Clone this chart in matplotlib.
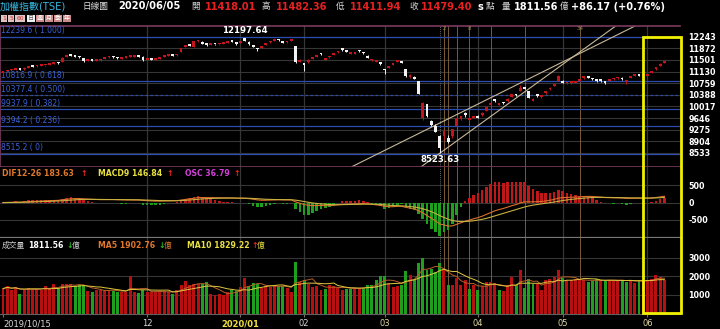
import numpy as np
import pandas as pd
import matplotlib
matplotlib.use('Agg')
import matplotlib.pyplot as plt
from matplotlib.patches import Rectangle

plt.rcParams['font.family'] = ['DejaVu Sans', 'Noto Sans CJK TC']
plt.rcParams['axes.unicode_minus'] = False

# daily TAIEX bars, 2019/10/15 .. 2020/06/05
opens = [11100, 11135, 11165, 11190, 11200, 11200, 11260, 11300, 11295, 11320,
         11330, 11345, 11370, 11420, 11447, 11590, 11650, 11640, 11620, 11560,
         11480, 11510, 11470, 11485, 11530, 11580, 11600, 11580, 11545, 11560,
         11590, 11610, 11635, 11606, 11495, 11525, 11510, 11540, 11600, 11640,
         11665, 11650, 11766, 11930, 11960, 11925, 12090, 12080, 12010, 11985,
         12015, 11995, 12015, 12040, 12100, 12060, 12050, 12190, 12080, 11980,
         11850, 11880, 11985, 12060, 12110, 12160, 12100, 12060, 12100, 11946,
         11430, 11380, 11420, 11540, 11610, 11700, 11500, 11580, 11670, 11740,
         11825, 11790, 11690, 11690, 11800, 11740, 11640, 11490, 11440, 11420,
         11180, 11250, 11350, 11440, 11470, 11202, 10960, 10960, 10830, 9661,
         10086, 9560, 9380, 9076, 9076, 9023, 9076, 9400, 9630, 9800,
         9600, 9660, 9700, 9740, 9880, 10060, 10230, 10080, 10150, 10190,
         10330, 10410, 10520, 10600, 10500, 10200, 10365, 10320, 10440, 10560,
         10680, 10830, 10830, 10750, 10760, 10780, 10830, 10920, 10970, 10920,
         10870, 10850, 10790, 10830, 10880, 10910, 10930, 10810, 10940, 11000,
         11040, 10990, 11000, 11090, 11200, 11320, 11418.01]
highs = [11140, 11175, 11200, 11225, 11215, 11265, 11300, 11310, 11330, 11345,
         11355, 11375, 11405, 11430, 11590, 11650, 11665, 11655, 11630, 11570,
         11515, 11520, 11495, 11530, 11585, 11640, 11615, 11590, 11565, 11595,
         11620, 11640, 11645, 11615, 11520, 11535, 11545, 11595, 11650, 11675,
         11675, 11695, 11885, 11965, 11980, 12115, 12125, 12090, 12020, 12015,
         12025, 12020, 12045, 12095, 12110, 12070, 12110, 12197.64, 12090, 11990,
         11880, 11935, 12040, 12115, 12179, 12170, 12110, 12115, 12140, 11950,
         11530, 11400, 11520, 11590, 11670, 11710, 11560, 11640, 11720, 11800,
         11840, 11800, 11725, 11730, 11810, 11750, 11650, 11535, 11480, 11430,
         11200, 11320, 11400, 11500, 11480, 11210, 11040, 10990, 10840, 10150,
         10100, 9600, 9450, 9120, 9260, 9100, 9300, 9660, 9720, 9830,
         9680, 9720, 9730, 9830, 10010, 10140, 10240, 10130, 10170, 10280,
         10420, 10420, 10700, 10640, 10510, 10290, 10380, 10370, 10520, 10630,
         10740, 11010, 10850, 10800, 10800, 10820, 10900, 10980, 10990, 10940,
         10890, 10870, 10810, 10900, 10920, 10950, 10950, 10840, 11000, 11060,
         11060, 11030, 11060, 11160, 11290, 11400, 11482.36]
lows = [11090, 11125, 11150, 11180, 11170, 11195, 11250, 11280, 11285, 11310,
        11320, 11340, 11360, 11380, 11440, 11580, 11620, 11600, 11570, 11440,
        11465, 11470, 11460, 11475, 11520, 11570, 11575, 11540, 11535, 11550,
        11580, 11600, 11595, 11480, 11485, 11500, 11500, 11530, 11590, 11630,
        11625, 11640, 11760, 11920, 11940, 11920, 12080, 11995, 11960, 11975,
        11990, 11985, 12005, 12030, 12060, 11985, 12040, 12100, 11980, 11900,
        11790, 11870, 11975, 12050, 12100, 12110, 12040, 12050, 12090, 11400,
        11420, 11150, 11410, 11530, 11600, 11660, 11490, 11570, 11660, 11730,
        11800, 11740, 11680, 11680, 11760, 11700, 11560, 11480, 11430, 11350,
        11050, 11240, 11340, 11430, 11400, 10960, 10920, 10880, 10400, 9600,
        9690, 9400, 9200, 8523.63, 8950, 8850, 9000, 9380, 9600, 9690,
        9580, 9640, 9640, 9720, 9860, 10040, 10160, 10060, 10100, 10170,
        10310, 10350, 10500, 10560, 10280, 10180, 10330, 10300, 10420, 10540,
        10660, 10820, 10760, 10730, 10740, 10760, 10820, 10900, 10920, 10870,
        10810, 10810, 10740, 10820, 10870, 10900, 10870, 10740, 10930, 10990,
        10980, 10980, 10990, 11080, 11190, 11310, 11411.94]
closes = [11128, 11160, 11190, 11210, 11180, 11255, 11290, 11290, 11320, 11330,
          11340, 11360, 11395, 11390, 11574, 11630, 11630, 11610, 11585, 11460,
          11500, 11480, 11480, 11520, 11575, 11625, 11585, 11553, 11553, 11585,
          11606, 11627, 11606, 11490, 11510, 11510, 11530, 11585, 11638, 11660,
          11638, 11680, 11872, 11946, 11957, 12105, 12106, 12010, 11978, 12000,
          12000, 12010, 12031, 12085, 12070, 11997, 12100, 12110, 11999, 11914,
          11840, 11925, 12031, 12106, 12138, 12127, 12053, 12106, 12127, 11421,
          11495, 11354, 11500, 11574, 11659, 11680, 11540, 11627, 11712, 11787,
          11818, 11755, 11712, 11712, 11776, 11712, 11574, 11521, 11468, 11362,
          11170, 11308, 11393, 11489, 11415, 10977, 11003, 10893, 10422, 10128,
          9717, 9439, 9218, 8681, 9234, 8890, 9285, 9644, 9698, 9736,
          9629, 9708, 9663, 9818, 9996, 10118, 10190, 10118, 10118, 10267,
          10405, 10373, 10617, 10585, 10299, 10245, 10352, 10352, 10511, 10617,
          10724, 10992, 10777, 10777, 10777, 10800, 10883, 10968, 10936, 10883,
          10830, 10830, 10777, 10883, 10905, 10936, 10883, 10830, 10990, 11043,
          10990, 11010, 11043, 11149, 11277, 11383, 11479.40]
volumes = [1344, 1469, 1290, 1434, 1075, 1290, 1398, 1344, 1344, 1254,
           1469, 1344, 1577, 1344, 1613, 1577, 1613, 1469, 1523, 1523,
           1219, 1165, 1290, 1290, 1201, 1290, 1219, 1165, 1165, 1165,
           2025, 1165, 1111, 1290, 1165, 1165, 1165, 1165, 1201, 1165,
           1075, 1290, 1523, 1756, 1523, 1613, 1577, 1577, 1702, 1075,
           986, 1075, 986, 1165, 1254, 1219, 1434, 1935, 1469, 1649,
           1577, 1398, 1469, 1434, 1523, 1469, 1469, 1398, 1165, 2778,
           1702, 1828, 1613, 1434, 1469, 1290, 1344, 1523, 1469, 1398,
           1254, 1344, 1344, 1398, 1357, 1357, 1536, 1536, 1804, 2018,
           2018, 1625, 1447, 1482, 1536, 2304, 2072, 1804, 2697, 3018,
           2340, 2375, 2250, 2697, 2340, 1536, 1536, 1893, 1536, 1804,
           1304, 1536, 1268, 1482, 1715, 1715, 1625, 1268, 1214, 1536,
           1982, 1536, 2340, 1357, 1840, 1590, 1590, 1268, 1804, 1840,
           1982, 2340, 1893, 1804, 1804, 1840, 1804, 1804, 1715, 1768,
           1840, 1768, 1804, 1804, 1768, 1804, 1804, 1700, 1804, 1625,
           1804, 1804, 1804, 1840, 2080, 1982, 1811.56]

month_ticks = [0, 34, 56, 71, 90, 112, 132, 152]
month_labels = ['2019/10/15', '12', '2020/01', '02', '03', '04', '05', '06']
price_ticks = [8533, 8904, 9275, 9646, 10017, 10388, 10759, 11130, 11501, 11872, 12243]
fib_levels = [12239.6, 10816.9, 10377.4, 9937.9, 9394.2, 8515.2]
fib_ratios = ['1.000', '0.618', '0.500', '0.382', '0.236', '0']
fib_base_bar = 103
fib_days = [1, 2, 3, 5, 8, 13, 21, 34]
trend_a = [(101, 9354), (134.5, 11605)]
trend_b = [(103, 8523.63), (134.5, 11605)]

BG = 'black'
RED = '#c4141c'
GREEN = '#1ea01e'
GRID = '#363636'
FIB_BLUE = '#2c4cb0'
TAN = '#8a6a44'

W, H = 720, 329
fig = plt.figure(figsize=(W / 100, H / 100), dpi=100, facecolor=BG)


def box(top, bottom, left=0, right=680):
    return [left / W, 1 - bottom / H, (right - left) / W, (bottom - top) / H]


ax = fig.add_axes(box(26, 166.7))
ax_m = fig.add_axes(box(166.7, 237.7), sharex=ax)
ax_v = fig.add_axes(box(237.7, 313.5), sharex=ax)

x = np.arange(len(closes))
o = np.array(opens)
c = np.array(closes)
vol = np.array(volumes)
up = c >= o

for a in (ax, ax_m, ax_v):
    a.set_facecolor(BG)
    for s in a.spines.values():
        s.set_visible(False)
    a.tick_params(left=False, right=False, labelleft=False, bottom=False, labelbottom=False)
    for m in month_ticks[1:]:
        a.axvline(m, color=GRID, lw=0.9, zorder=0)
    for d in fib_days:
        if d == 1:
            a.axvline(fib_base_bar, color='#8a8a8a', lw=0.6, ls=(0, (1, 1.5)), zorder=1)
        else:
            a.axvline(fib_base_bar + d - 1, color=TAN, lw=0.6, zorder=1)

ax.set_xlim(-0.708, 159.67)

# main price panel
ax.set_ylim(8096, 12584)
for t in price_ticks:
    ax.axhline(t, color=GRID, lw=0.8, zorder=0)
for lv, r in zip(fib_levels, fib_ratios):
    ax.axhline(lv, color=FIB_BLUE, lw=0.9, ls=(0, (2, 2)) if r == '0.500' else '-', zorder=1)
    ax.annotate(f'{lv:.1f} ( {r})', (0.002, lv), xycoords=('axes fraction', 'data'),
                xytext=(0, 1), textcoords='offset points', va='bottom', ha='left',
                fontsize=5.5, color='#3a62d8', family=['Liberation Sans Narrow', 'DejaVu Sans'])
ax.axline(trend_a[0], trend_a[1], color='#c8b898', lw=0.8, zorder=2)
ax.axline(trend_b[0], trend_b[1], color='#c8b898', lw=0.8, zorder=2)

ccol = np.where(up, RED, '#f2f2f2')
ax.vlines(x, lows, highs, colors=ccol, lw=0.7, zorder=3)
# bodies drawn at least ~2 px tall, as the terminal does
ax.bar(x, np.maximum(np.abs(c - o), 55), bottom=np.minimum(o, c), width=0.66,
       color=ccol, linewidth=0, zorder=4)

hi = int(np.argmax(highs))
lo = int(np.argmin(lows))
ax.annotate(f'{highs[hi]:.2f}', (hi, highs[hi]), xytext=(0, 2.5), textcoords='offset points',
            ha='center', va='bottom', color='white', fontsize=6.2, fontweight='bold', zorder=6)
ax.annotate(f'{lows[lo]:.2f}', (lo, lows[lo]), xytext=(0, -1), textcoords='offset points',
            ha='center', va='top', color='white', fontsize=6.2, fontweight='bold', zorder=6)

for d in (2, 8, 34):
    ax.text(fib_base_bar + d - 1, 12490, str(d), ha='center', va='center',
            fontsize=4, color='#a08058')

ax.yaxis.tick_right()
ax.set_yticks(price_ticks)
ax.tick_params(axis='y', right=False, labelright=True, pad=2.5,
               labelsize=5.8, labelcolor='white')
for lab in ax.get_yticklabels():
    lab.set_fontweight('bold')
for s in ('top', 'left', 'bottom'):
    ax.spines[s].set_visible(True)
    ax.spines[s].set_color('#7a3a5e')
    ax.spines[s].set_linewidth(1.2)

# MACD panel; the histogram has its own, larger scale
cs = pd.Series(c)
dif = cs.ewm(span=12, adjust=False).mean() - cs.ewm(span=26, adjust=False).mean()
sig = dif.ewm(span=9, adjust=False).mean()
osc = dif - sig
ax_m.set_ylim(-1029, 1050)
for t in (-500, 0, 500):
    ax_m.axhline(t, color=GRID, lw=0.8, zorder=0)
ax_h = ax_m.twinx()
ax_h.set_ylim(-1029 / 4, 1050 / 4)
ax_h.axis('off')
ax_h.bar(x, osc, width=0.6, color=np.where(osc >= 0, '#c01818', GREEN), linewidth=0, zorder=2)
ax_h.plot(x, dif, color='#d8702c', lw=0.8, zorder=3, transform=ax_m.transData)
ax_h.plot(x, sig, color='#c8b040', lw=0.8, zorder=3, transform=ax_m.transData)
ax_m.yaxis.tick_right()
ax_m.set_yticks([-500, 0, 500])
ax_m.tick_params(axis='y', right=False, labelright=True, pad=2.5,
                 labelsize=5.8, labelcolor='white')
for lab in ax_m.get_yticklabels():
    lab.set_fontweight('bold')
ax_m.spines['bottom'].set_visible(True)
ax_m.spines['bottom'].set_color('#777777')
ax_m.spines['bottom'].set_linewidth(1.6)

# volume panel
prev = np.concatenate([[c[0] - 1], c[:-1]])
vcol = np.where(c >= prev, '#b81010', GREEN)
ax_v.set_ylim(0, 4086)
for t in (1000, 2000, 3000):
    ax_v.axhline(t, color=GRID, lw=0.8, zorder=0)
ax_v.bar(x, vol, width=0.7, color=vcol, linewidth=0, zorder=2)
vs = pd.Series(vol)
ax_v.plot(x, vs.rolling(5, min_periods=1).mean(), color='#b8602a', lw=0.7, zorder=3)
ax_v.plot(x, vs.rolling(10, min_periods=1).mean(), color='#e0c840', lw=0.7, zorder=3)
ax_v.yaxis.tick_right()
ax_v.set_yticks([1000, 2000, 3000])
ax_v.tick_params(axis='y', right=False, labelright=True, pad=2.5,
                 labelsize=5.8, labelcolor='white')
for lab in ax_v.get_yticklabels():
    lab.set_fontweight('bold')
ax_v.spines['bottom'].set_visible(True)
ax_v.spines['bottom'].set_color('#606060')
ax_v.set_xticks(month_ticks)
ax_v.set_xticklabels(month_labels)
ax_v.tick_params(axis='x', bottom=True, labelbottom=True, length=2.5, color='#707070',
                 pad=1.5, labelsize=6, labelcolor='#e0d8a0')
xl = ax_v.get_xticklabels()
xl[0].set_ha('left')
xl[0].set_color('#d8d8d8')
xl[1].set_color('#d8d8d8')
xl[2].set_color('#f0e040')
xl[2].set_fontweight('bold')
xl[3].set_color('#d8d8d8')

# header
hy = 1 - 6.5 / H
header = [
    (0, '加權指數(TSE)', '#38b8e0', 'normal', 7.2),
    (82, '日線圖', '#e0e0e0', 'normal', 6.2),
    (118, '2020/06/05', 'white', 'bold', 7.1),
    (191, '開', '#d8d8d8', 'normal', 6.2),
    (205, '11418.01', '#e82020', 'bold', 7.1),
    (262, '高', '#d8d8d8', 'normal', 6.2),
    (276, '11482.36', '#e82020', 'bold', 7.1),
    (336, '低', '#d8d8d8', 'normal', 6.2),
    (350, '11411.94', '#e82020', 'bold', 7.1),
    (409, '收', '#d8d8d8', 'normal', 6.2),
    (421, '11479.40', '#e82020', 'bold', 7.1),
    (477, 's', 'white', 'bold', 7.1),
    (486, '點', '#d8d8d8', 'normal', 6.2),
    (502, '量', '#d8d8d8', 'normal', 6.2),
    (514, '1811.56', 'white', 'bold', 7.0),
    (560, '億', '#d8d8d8', 'normal', 6.2),
    (571, '+86.17 (+0.76%)', 'white', 'bold', 7.1),
]
for px, s, col, wt, fs in header:
    fig.text(px / W, hy, s, color=col, fontweight=wt, fontsize=fs, va='center', ha='left')

# period buttons
buttons = [('1', 1, 6, '#e0c4c4', '#c03030'), ('5', 8, 6, '#e0c4c4', '#c03030'),
           ('60', 15, 10, '#e0c4c4', '#c03030'), ('日', 27, 8, '#f0f0f0', '#606060'),
           ('週', 36, 8, '#cc8c8c', 'white'), ('月', 45, 8, '#cc8c8c', 'white'),
           ('季', 54, 8, '#cc8c8c', 'white'), ('年', 63, 8, '#cc8c8c', 'white')]
for s, bx, bw, fc, tc in buttons:
    fig.add_artist(Rectangle((bx / W, 1 - 22 / H), bw / W, 7 / H, transform=fig.transFigure,
                             facecolor=fc, edgecolor='none'))
    fig.text((bx + bw / 2) / W, 1 - 18.5 / H, s, color=tc, fontsize=4.3,
             ha='center', va='center')


# legend rows of the two lower panels
def row(y, items):
    for px, s, col in items:
        fig.text(px / W, 1 - y / H, s, color=col, fontsize=5.6, fontweight='bold',
                 va='center', ha='left')


row(174, [(2, 'DIF12-26 183.63', '#e0782c'), (80, '↑', '#ff2020'),
          (98, 'MACD9 146.84', '#e8e040'), (166, '↑', '#ff2020'),
          (185, 'OSC 36.79', '#d040d8'), (233, '↑', '#ff2020')])
row(245, [(28, '1811.56', 'white'), (66, '↓', '#20c020'),
          (98, 'MA5 1902.76', '#e0782c'), (158, '↓', '#20c020'),
          (187, 'MA10 1829.22', '#e8e040'), (251, '↑', '#ff2020')])
for px, s, col in [(2, '成交量', '#d0d0d0'), (72, '億', '#d0d0d0'),
                   (164, '億', '#e0782c'), (257, '億', '#e8e040')]:
    fig.text(px / W, 1 - 245 / H, s, color=col, fontsize=5.6, va='center', ha='left')

# highlight box
fig.add_artist(Rectangle((643 / W, 1 - 313 / H), 38 / W, (313 - 36.7) / H,
                         transform=fig.transFigure, fill=False,
                         edgecolor='#f0f000', lw=2.0, zorder=10))

fig.savefig('out.png', dpi=100, facecolor=BG)
